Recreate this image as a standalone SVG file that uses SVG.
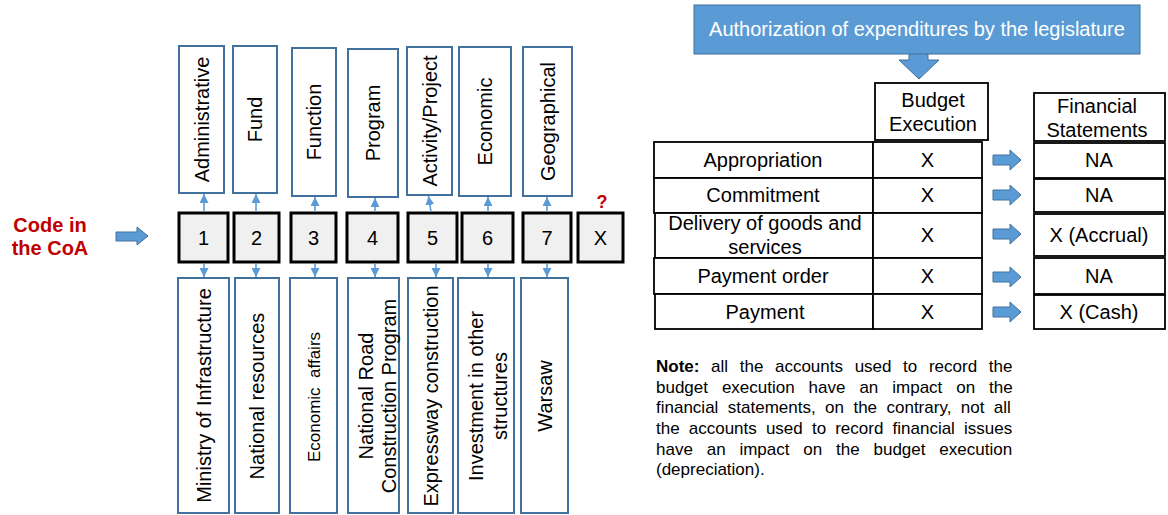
<svg xmlns="http://www.w3.org/2000/svg" width="1168" height="515" viewBox="0 0 1168 515">
  <style>
    text { font-family: "Liberation Sans", Arial, sans-serif; fill: #000; }
    .lbl { font-size: 20px; text-anchor: middle; }
    .cat { fill: #fff; stroke: #41719c; stroke-width: 2; }
    .code { fill: #f0f0f0; stroke: #000; stroke-width: 3; }
    .cell { fill: #fff; stroke: #000; stroke-width: 1.8; }
    .blk { fill: #5b9bd5; stroke: #41719c; stroke-width: 1; }
    .thin { stroke: #5b9bd5; stroke-width: 1.6; fill: none; marker-end: url(#tip); }
    .note { font-size: 17px; }
  </style>
  <defs>
    <marker id="tip" markerUnits="userSpaceOnUse" markerWidth="9" markerHeight="9" refX="9" refY="4.5" orient="auto">
      <path d="M0,0 L9,4.5 L0,9 z" fill="#5b9bd5"/>
    </marker>
  </defs>
  <rect width="1168" height="515" fill="#fff"/>

  <!-- label on the left -->
  <g id="code-label">
    <text x="50" y="232" class="lbl" style="font-weight:bold; fill:#c00000">Code in</text>
    <text x="50" y="255" class="lbl" style="font-weight:bold; fill:#c00000">the CoA</text>
  </g>
  <g id="code-arrow">
    <polygon class="blk" points="116,232 137,232 137,227 148,236 137,245 137,241 116,241"/>
  </g>

  <!-- classification categories (top row) -->
  <g id="cat-administrative"><rect class="cat" x="179" y="46" width="45" height="147"/>
    <text class="lbl" transform="translate(201.5,119.5) rotate(-90)" y="7">Administrative</text></g>
  <g id="cat-fund"><rect class="cat" x="233" y="46" width="44" height="147"/>
    <text class="lbl" transform="translate(255,119.5) rotate(-90)" y="7">Fund</text></g>
  <g id="cat-function"><rect class="cat" x="292" y="48" width="44" height="148"/>
    <text class="lbl" transform="translate(314,122) rotate(-90)" y="7">Function</text></g>
  <g id="cat-program"><rect class="cat" x="348" y="49" width="50" height="148"/>
    <text class="lbl" transform="translate(373,123) rotate(-90)" y="7">Program</text></g>
  <g id="cat-activity"><rect class="cat" x="407" y="47" width="45" height="148"/>
    <text class="lbl" transform="translate(429.5,121) rotate(-90)" y="7">Activity/Project</text></g>
  <g id="cat-economic"><rect class="cat" x="459" y="47" width="52" height="149"/>
    <text class="lbl" transform="translate(485,121.5) rotate(-90)" y="7">Economic</text></g>
  <g id="cat-geographical"><rect class="cat" x="523" y="47" width="49" height="149"/>
    <text class="lbl" transform="translate(547.5,121.5) rotate(-90)" y="7">Geographical</text></g>

  <!-- code segments -->
  <g id="seg-1"><rect class="code" x="179" y="213" width="49" height="49"/><text class="lbl" x="203.5" y="245">1</text></g>
  <g id="seg-2"><rect class="code" x="234" y="213" width="45" height="49"/><text class="lbl" x="256.5" y="245">2</text></g>
  <g id="seg-3"><rect class="code" x="291" y="213" width="45" height="49"/><text class="lbl" x="313.5" y="245">3</text></g>
  <g id="seg-4"><rect class="code" x="347" y="213" width="51" height="49"/><text class="lbl" x="372.5" y="245">4</text></g>
  <g id="seg-5"><rect class="code" x="408" y="213" width="49" height="49"/><text class="lbl" x="432.5" y="245">5</text></g>
  <g id="seg-6"><rect class="code" x="462" y="213" width="51" height="49"/><text class="lbl" x="487.5" y="245">6</text></g>
  <g id="seg-7"><rect class="code" x="523" y="213" width="48" height="49"/><text class="lbl" x="547" y="245">7</text></g>
  <g id="seg-x"><rect class="code" x="578" y="213" width="45" height="49"/><text class="lbl" x="600.5" y="245">X</text>
    <text class="lbl" x="602" y="208" style="font-weight:bold; font-size:18px; fill:#c00000">?</text></g>

  <!-- example values (bottom row) -->
  <g id="val-ministry"><rect class="cat" x="178" y="278" width="51" height="235"/>
    <text class="lbl" transform="translate(203.5,395.5) rotate(-90)" y="7">Ministry of Infrastructure</text></g>
  <g id="val-resources"><rect class="cat" x="235" y="278" width="44" height="235"/>
    <text class="lbl" transform="translate(257,396) rotate(-90)" y="7">National resources</text></g>
  <g id="val-affairs"><rect class="cat" x="290" y="278" width="47" height="235"/>
    <text class="lbl" xml:space="preserve" style="font-size:17px" transform="translate(313.5,397) rotate(-90)" y="6">Economic  affairs</text></g>
  <g id="val-road"><rect class="cat" x="348" y="278" width="51" height="235"/>
    <text class="lbl" transform="translate(373.5,396) rotate(-90)"><tspan x="0" y="-1">National Road</tspan><tspan x="0" y="22">Construction Program</tspan></text></g>
  <g id="val-expressway"><rect class="cat" x="408" y="278" width="45" height="235"/>
    <text class="lbl" transform="translate(430.5,396) rotate(-90)" y="7">Expressway construction</text></g>
  <g id="val-investment"><rect class="cat" x="458" y="278" width="56" height="235"/>
    <text class="lbl" transform="translate(486,396) rotate(-90)"><tspan x="0" y="-3">Investment in other</tspan><tspan x="0" y="21">structures</tspan></text></g>
  <g id="val-warsaw"><rect class="cat" x="521" y="278" width="47" height="235"/>
    <text class="lbl" transform="translate(544.5,396) rotate(-90)" y="7">Warsaw</text></g>

  <!-- connectors between segments and categories/values -->
  <g id="connectors">
    <path class="thin" d="M204,212 L204,194"/>
    <path class="thin" d="M256,212 L256,194"/>
    <path class="thin" d="M315,212 L315,197"/>
    <path class="thin" d="M375,212 L375,198"/>
    <path class="thin" d="M431,212 L428.5,196"/>
    <path class="thin" d="M488,212 L488,197"/>
    <path class="thin" d="M547,212 L547,197"/>
    <path class="thin" d="M204,263 L204,277"/>
    <path class="thin" d="M256,263 L256,277"/>
    <path class="thin" d="M315,263 L315,277"/>
    <path class="thin" d="M375,263 L375,277"/>
    <path class="thin" d="M436,263 L436,277"/>
    <path class="thin" d="M488,263 L488,277"/>
    <path class="thin" d="M547,263 L547,277"/>
    <!-- block arrows towards the financial statements -->
    <polygon class="blk" points="993,155 1010,155 1010,150 1021,160 1010,170 1010,165 993,165"/>
    <polygon class="blk" points="993,190 1010,190 1010,185 1021,195 1010,205 1010,200 993,200"/>
    <polygon class="blk" points="993,229 1010,229 1010,224 1021,234 1010,244 1010,239 993,239"/>
    <polygon class="blk" points="993,272 1010,272 1010,267 1021,277 1010,287 1010,282 993,282"/>
    <polygon class="blk" points="993,307 1010,307 1010,302 1021,312 1010,322 1010,317 993,317"/>
  </g>

  <!-- authorization banner -->
  <g id="authorization">
    <polygon class="blk" points="909,53 928,53 928,60 939,60 919,79 899,60 909,60"/>
    <rect class="blk" x="694" y="5" width="446" height="49"/>
    <text class="lbl" x="917" y="36" style="fill:#fff">Authorization of expenditures by the legislature</text>
  </g>

  <!-- budget execution table -->
  <g id="budget-header">
    <rect class="cell" x="875" y="83" width="113" height="57"/>
    <text class="lbl" x="933" y="107">Budget</text>
    <text class="lbl" x="933" y="131">Execution</text>
  </g>
  <g id="row-appropriation">
    <rect class="cell" x="654" y="142" width="219" height="36"/><rect class="cell" x="873" y="142" width="109" height="36"/>
    <text class="lbl" x="763" y="167">Appropriation</text><text class="lbl" x="927.5" y="167">X</text>
  </g>
  <g id="row-commitment">
    <rect class="cell" x="654" y="178" width="219" height="35"/><rect class="cell" x="873" y="178" width="109" height="35"/>
    <text class="lbl" x="763" y="202">Commitment</text><text class="lbl" x="927.5" y="202">X</text>
  </g>
  <g id="row-delivery">
    <rect class="cell" x="655" y="213" width="218" height="45"/><rect class="cell" x="873" y="213" width="109" height="45"/>
    <text class="lbl" x="765" y="230">Delivery of goods and</text>
    <text class="lbl" x="765" y="254">services</text>
    <text class="lbl" x="927.5" y="242">X</text>
  </g>
  <g id="row-payment-order">
    <rect class="cell" x="654" y="258" width="219" height="36"/><rect class="cell" x="873" y="258" width="109" height="36"/>
    <text class="lbl" x="763" y="283">Payment order</text><text class="lbl" x="927.5" y="283">X</text>
  </g>
  <g id="row-payment">
    <rect class="cell" x="655" y="294" width="218" height="35"/><rect class="cell" x="873" y="294" width="109" height="35"/>
    <text class="lbl" x="765" y="319">Payment</text><text class="lbl" x="927.5" y="319">X</text>
  </g>

  <!-- financial statements column -->
  <g id="fs-header">
    <rect class="cell" x="1034" y="93" width="131" height="48"/>
    <text class="lbl" x="1097" y="113">Financial</text>
    <text class="lbl" x="1097" y="137">Statements</text>
  </g>
  <g id="fs-appropriation"><rect class="cell" x="1034" y="143" width="131" height="35"/><text class="lbl" x="1099" y="167">NA</text></g>
  <g id="fs-commitment"><rect class="cell" x="1034" y="179" width="131" height="33"/><text class="lbl" x="1099" y="202">NA</text></g>
  <g id="fs-delivery"><rect class="cell" x="1034" y="214" width="131" height="42"/><text class="lbl" x="1099" y="242">X (Accrual)</text></g>
  <g id="fs-payment-order"><rect class="cell" x="1034" y="258" width="131" height="36"/><text class="lbl" x="1099" y="283">NA</text></g>
  <g id="fs-payment"><rect class="cell" x="1034" y="295" width="131" height="34"/><text class="lbl" x="1099" y="319">X (Cash)</text></g>

  <!-- explanatory note, justified lines -->
  <g id="note" class="note">
    <text x="656" y="372" style="word-spacing:6.9px"><tspan style="font-weight:bold">Note:</tspan> all the accounts used to record the</text>
    <text x="656" y="393" style="word-spacing:9.2px">budget execution have an impact on the</text>
    <text x="656" y="413" style="word-spacing:4.7px">financial statements, on the contrary, not all</text>
    <text x="656" y="434" style="word-spacing:4.4px">the accounts used to record financial issues</text>
    <text x="656" y="455" style="word-spacing:9.1px">have an impact on the budget execution</text>
    <text x="656" y="475">(depreciation).</text>
  </g>
</svg>
